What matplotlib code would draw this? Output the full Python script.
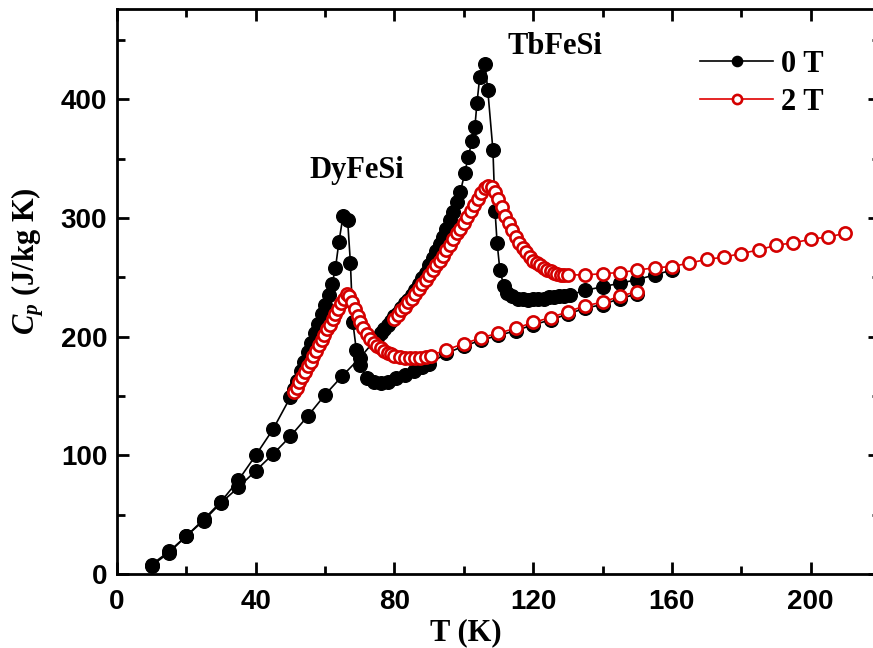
import matplotlib
matplotlib.use("Agg")
import matplotlib.pyplot as plt
from matplotlib.ticker import MultipleLocator

plt.rcParams['mathtext.fontset'] = 'custom'
plt.rcParams['mathtext.it'] = 'Liberation Serif:italic:bold'
plt.rcParams['mathtext.rm'] = 'Liberation Serif:bold'
plt.rcParams['mathtext.bf'] = 'Liberation Serif:bold'

# ---------------- data ----------------
# DyFeSi, 0 T
dy_t0 = [10, 15, 20, 25, 30, 35, 40, 45, 50, 51, 52, 53, 54, 55, 56, 57, 58, 59, 60, 61, 62, 63, 64,
         65.2, 66.5, 67.3, 68, 69, 70, 72, 74, 76, 78, 80.5, 83, 85.5, 88, 90, 95, 100, 105, 110, 115,
         120, 125, 130, 135, 140, 145, 150]
dy_c0 = [8, 19, 32, 46, 61, 79, 100, 122, 149, 156, 163, 171, 179, 187, 195, 203, 211, 219, 227, 235, 244, 258, 280,
         302, 298, 262, 212, 189, 176, 165, 162, 161, 162, 165, 168, 171, 174, 177, 186, 192, 197, 201, 205,
         210, 214, 219, 224, 227, 232, 236]

# DyFeSi, 2 T
dy_t2 = [51.0, 51.8, 52.6, 53.4, 54.2, 55.0, 55.8, 56.6, 57.4, 58.2, 59.0, 59.8, 60.6, 61.4, 62.2, 63.0,
         63.8, 64.6, 65.4, 66.2, 67.0, 67.8, 68.6, 69.4, 70.2, 71, 72, 73, 74, 75, 76, 77, 78, 79, 80,
         81.5, 83, 84.5, 86, 87.5, 89, 90.5, 95, 100, 105, 110, 115, 120, 125, 130, 135, 140, 145, 150]
dy_c2 = [153, 157, 162, 166, 170, 175, 179, 184, 188, 193, 197, 201, 206, 210, 215, 219,
         223, 228, 232, 236, 234, 229, 223, 217, 212, 207, 202, 198, 195, 192, 190, 188, 186, 185, 184,
         183, 182, 182, 182, 182, 183, 184, 189, 194, 199, 203, 207, 212, 216, 221, 226, 229, 234, 238]

# TbFeSi, 0 T
tb_t0 = [10, 15, 20, 25, 30, 35, 40, 45, 50, 55, 60, 65, 70, 75, 76, 77, 78, 79, 80, 81, 82, 83, 84, 85,
         86, 87, 88, 89, 90, 91, 92, 93, 94, 95, 96, 97, 98, 99, 100.3, 101.2, 102.4, 103.2, 103.8, 104.6,
         106.1, 106.9, 108.4, 109, 109.6, 110.4, 111.5, 112.5, 114, 115.5, 117, 118.5, 120, 121.5, 123,
         124.5, 126, 127.5, 129, 130.5, 135, 140, 145, 150, 155, 160]
tb_c0 = [7, 18, 32, 45, 60, 73, 87, 101, 116, 133, 151, 167, 182, 199, 203, 206, 210, 213, 217, 220, 224, 228, 231, 235,
         239, 244, 249, 254, 260, 266, 272, 278, 284, 291, 298, 305, 313, 322, 338, 351, 365, 377, 397, 419,
         430, 408, 357, 306, 279, 256, 243, 237, 234, 232, 232, 231, 232, 232, 232,
         233, 233, 234, 234, 235, 239, 242, 245, 248, 252, 256]

# TbFeSi, 2 T
tb_t2 = [80, 81, 82, 83, 84, 85, 86, 87, 88, 89, 90, 91, 92, 93, 94, 95, 96, 97, 98, 99, 100, 101, 102,
         103, 104, 105, 106, 107, 108, 109, 110, 111, 112, 113, 114, 115, 116, 117, 118, 119, 120, 121,
         122, 123, 124, 125, 126, 127, 128, 129, 130, 135, 140, 145, 150, 155, 160, 165, 170, 175, 180,
         185, 190, 195, 200, 205, 210]
tb_c2 = [215, 218, 222, 225, 229, 232, 236, 240, 244, 248, 252, 256, 260, 264, 268, 273, 277, 282, 287, 291, 296, 301, 306,
         311, 316, 321, 325, 327, 326, 322, 316, 309, 302, 296, 290, 284, 279, 275, 271, 267, 264, 262,
         260, 258, 256, 255, 254, 253, 252, 252, 252, 252, 253, 254, 256, 258, 259, 262, 265, 267, 270,
         273, 277, 279, 282, 284, 287]

legend_labels = ["0 T", "2 T"]
x_label = "T (K)"
y_label = r"$C_p$ (J/kg K)"

# ---------------- figure ----------------
fig = plt.figure(figsize=(8.73, 6.48), dpi=100)
ax = fig.add_axes([117 / 873, 1 - 574 / 648, (880 - 117) / 873, (574 - 9) / 648])

black_kw = dict(color='black', lw=1.2, marker='o', ms=9.8, mfc='black', mec='black', mew=1.0)
red_kw = dict(color='#e00000', lw=1.2, marker='o', ms=8.8, mfc='white', mec='#d40000', mew=1.9)

l0, = ax.plot(tb_t0, tb_c0, **black_kw, zorder=3)
ax.plot(dy_t0, dy_c0, **black_kw, zorder=3)
l2, = ax.plot(tb_t2, tb_c2, **red_kw, zorder=4)
ax.plot(dy_t2, dy_c2, **red_kw, zorder=4)

ax.set_xlim(0, 220)
ax.set_ylim(0, 476)
ax.xaxis.set_major_locator(MultipleLocator(40))
ax.xaxis.set_minor_locator(MultipleLocator(20))
ax.yaxis.set_major_locator(MultipleLocator(100))
ax.yaxis.set_minor_locator(MultipleLocator(50))
ax.tick_params(which='both', direction='in', top=True, right=True, width=2.0)
ax.tick_params(which='major', length=8.5)
ax.tick_params(which='minor', length=5.5)
ax.tick_params(axis='x', which='major', pad=11)
ax.tick_params(axis='y', which='major', pad=7)
for sp in ax.spines.values():
    sp.set_linewidth(2.0)

for lab in ax.get_xticklabels() + ax.get_yticklabels():
    lab.set_fontfamily('Liberation Sans')
    lab.set_fontweight('bold')
    lab.set_fontsize(20)

serif = dict(family='Liberation Serif', weight='bold')
ax.set_xlabel(x_label, fontsize=22, **serif)
ax.xaxis.set_label_coords((466 - 117) / 763, -0.078)
ax.set_ylabel(y_label, fontsize=22, **serif)
ax.yaxis.set_label_coords((46 - 117) / 763, (574 - 261) / 565)

ax.text(69.2, 334, "DyFeSi", ha='center', va='baseline', fontsize=22, **serif)
ax.text(126.3, 438, "TbFeSi", ha='center', va='baseline', fontsize=22, **serif)

leg = ax.legend([l0, l2], legend_labels, loc='upper left', bbox_to_anchor=((700 - 117) / 763, (574 - 50) / 565),
                frameon=False, borderpad=0, borderaxespad=0, handlelength=2.4, handletextpad=0.25,
                labelspacing=0.3, markerscale=0.75, prop=dict(family='Liberation Serif', weight='bold', size=22))

fig.savefig("out.png", dpi=100)
